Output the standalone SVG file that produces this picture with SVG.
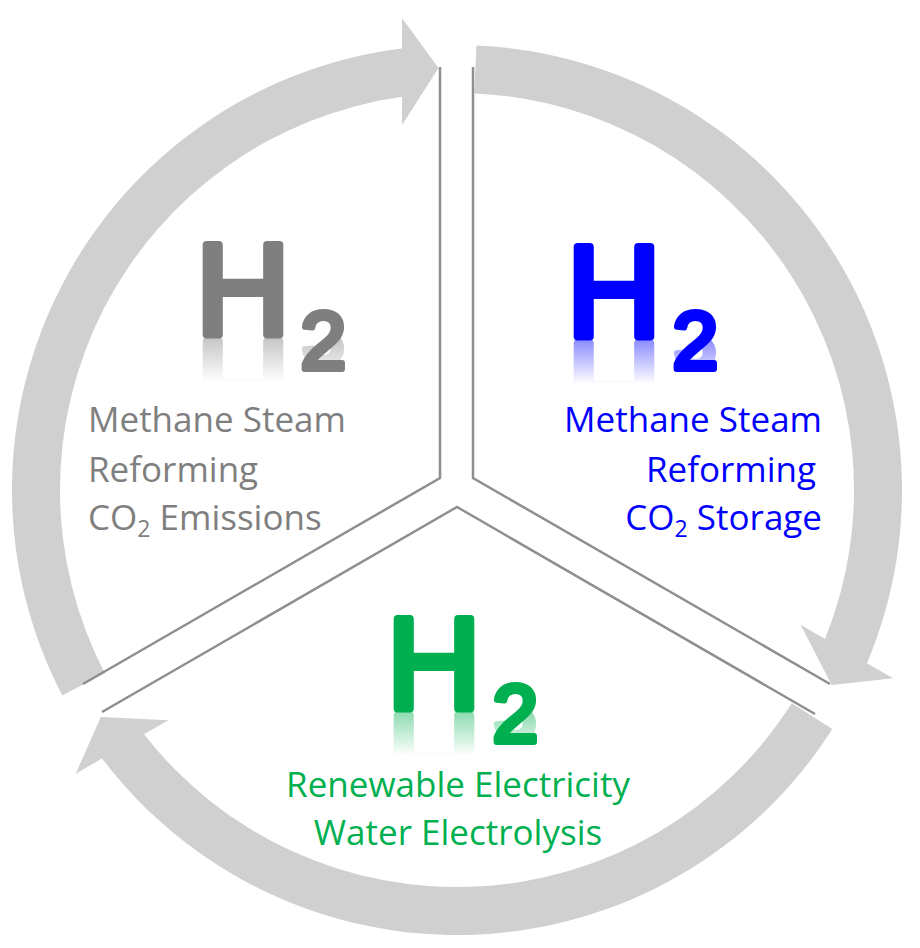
<svg xmlns="http://www.w3.org/2000/svg" xmlns:xlink="http://www.w3.org/1999/xlink" width="920" height="948" viewBox="0 0 920 948">
  <style>
    .arrow { fill: #d0d0d0; }
    .divider { fill: none; stroke: #8f8f8f; stroke-width: 2.5; stroke-linejoin: miter; }
    .big { font-family: "Liberation Sans", Arial, sans-serif; font-weight: normal; stroke-linejoin: round; stroke-linecap: round; }
    .hh { font-size: 130px; stroke-width: 8; }
    .sub { font-size: 82px; stroke-width: 6; }
    .lbl { font-family: "Open Sans", "Liberation Sans", sans-serif; font-size: 35px; }
    .gray { fill: #7f7f7f; stroke: #7f7f7f; }
    .blue { fill: #0000ff; stroke: #0000ff; }
    .green { fill: #00b050; stroke: #00b050; }
    .tgray { fill: #7f7f7f; }
    .tblue { fill: #0000ff; }
    .tgreen { fill: #00b050; }
  </style>
  <defs>
    <path id="arrow" d="M 62.28 695.48 A 445 445 0 0 1 402 48.4 L 402 18 L 438.5 68 L 402 125 L 402 96.8 A 397 397 0 0 0 104.86 673.31 Z"/>
    <linearGradient id="fadeGrad" x1="0" y1="0" x2="0" y2="1">
      <stop offset="0" stop-color="#ffffff" stop-opacity="0.45"/>
      <stop offset="1" stop-color="#ffffff" stop-opacity="0"/>
    </linearGradient>
    <mask id="fadeA" maskUnits="userSpaceOnUse" x="0" y="0" width="920" height="948">
      <rect x="180" y="338" width="190" height="44" fill="url(#fadeGrad)"/>
    </mask>
    <mask id="fadeB" maskUnits="userSpaceOnUse" x="0" y="0" width="920" height="948">
      <rect x="550" y="340" width="190" height="44" fill="url(#fadeGrad)"/>
    </mask>
    <mask id="fadeC" maskUnits="userSpaceOnUse" x="0" y="0" width="920" height="948">
      <rect x="370" y="712" width="190" height="44" fill="url(#fadeGrad)"/>
    </mask>
  </defs>

  <rect x="0" y="0" width="920" height="948" fill="#ffffff"/>

  <g id="cycle-arrows">
    <use xlink:href="#arrow" href="#arrow" class="arrow"/>
    <use xlink:href="#arrow" href="#arrow" class="arrow" transform="rotate(120 457 490)"/>
    <use xlink:href="#arrow" href="#arrow" class="arrow" transform="rotate(240 457 490)"/>
  </g>

  <g id="connectors">
    <polyline class="divider" points="440,67 440,478 83,684"/>
    <polyline class="divider" points="473,67 473,478 830,684"/>
    <polyline class="divider" points="102,712 457,507 815,714"/>
  </g>

  <g id="node-grey">
    <g id="h2-grey">
      <text class="big hh gray" x="196" y="334">H</text>
      <text class="big sub gray" x="300.5" y="369">2</text>
    </g>
    <g mask="url(#fadeA)">
      <use xlink:href="#h2-grey" href="#h2-grey" transform="translate(0 676) scale(1 -1)"/>
    </g>
    <text class="lbl tgray" x="88" y="432">Methane Steam</text>
    <text class="lbl tgray" x="88" y="482">Reforming</text>
    <text class="lbl tgray" x="88" y="530">CO<tspan font-size="23" dy="7">2</tspan><tspan dy="-7"> Emissions</tspan></text>
  </g>

  <g id="node-blue">
    <g id="h2-blue">
      <text class="big hh blue" x="567" y="336">H</text>
      <text class="big sub blue" x="672.5" y="369">2</text>
    </g>
    <g mask="url(#fadeB)">
      <use xlink:href="#h2-blue" href="#h2-blue" transform="translate(0 680) scale(1 -1)"/>
    </g>
    <text class="lbl tblue" x="822" y="432" text-anchor="end">Methane Steam</text>
    <text class="lbl tblue" x="816" y="482" text-anchor="end">Reforming</text>
    <text class="lbl tblue" x="822" y="530" text-anchor="end">CO<tspan font-size="23" dy="7">2</tspan><tspan dy="-7"> Storage</tspan></text>
  </g>

  <g id="node-green">
    <g id="h2-green">
      <text class="big hh green" x="387" y="708">H</text>
      <text class="big sub green" x="492.5" y="742">2</text>
    </g>
    <g mask="url(#fadeC)">
      <use xlink:href="#h2-green" href="#h2-green" transform="translate(0 1424) scale(1 -1)"/>
    </g>
    <text class="lbl tgreen" x="458" y="797" text-anchor="middle">Renewable Electricity</text>
    <text class="lbl tgreen" x="458" y="845" text-anchor="middle">Water Electrolysis</text>
  </g>
</svg>
